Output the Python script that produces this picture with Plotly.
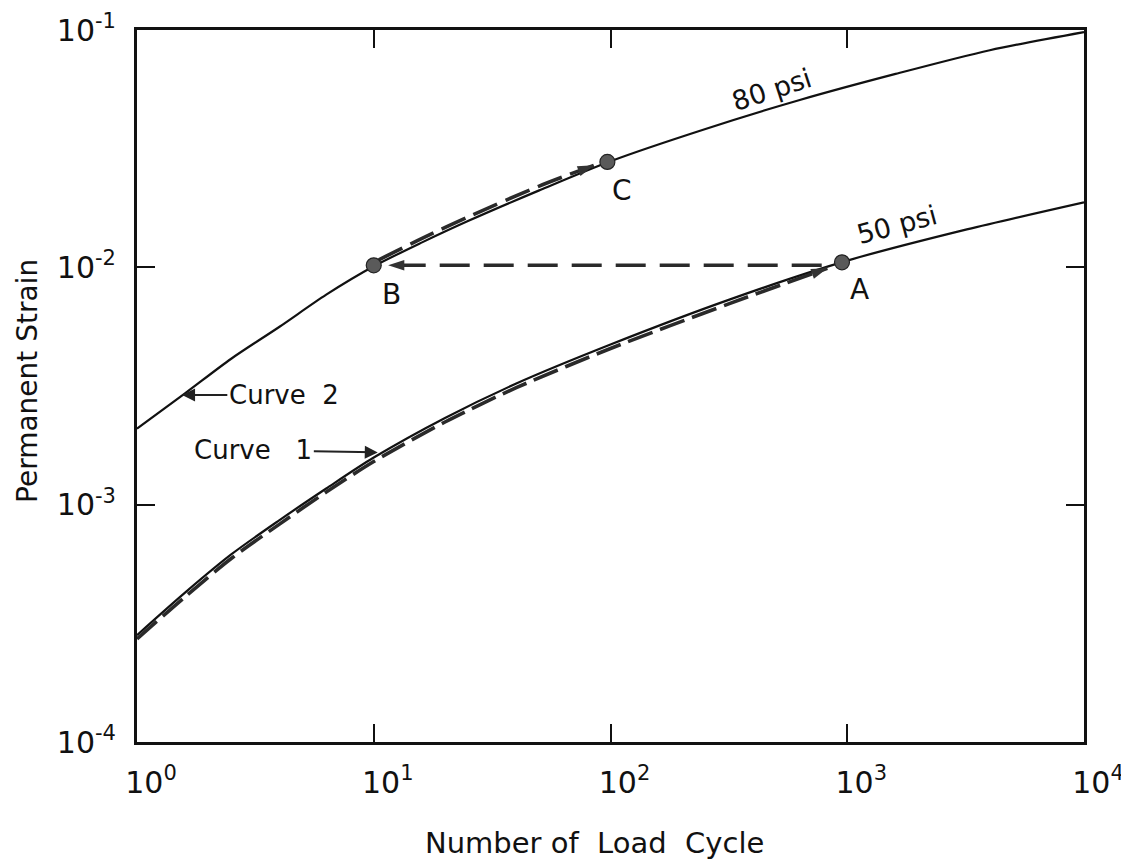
import math
import plotly.graph_objects as go

# ---------------- data ----------------
cycles_80 = [1, 1.6, 2.5, 4, 6.3, 10, 16, 25, 50, 100, 250, 630, 1600, 4000, 10000]
strain_80 = [0.00209, 0.00295, 0.00412, 0.00562, 0.00767, 0.0101, 0.01274, 0.01567,
             0.0211, 0.0280, 0.0382, 0.0507, 0.0653, 0.0822, 0.098]

cycles_50 = [1, 1.6, 2.5, 4, 6.3, 10, 20, 40, 100, 320, 1000, 3200, 10000]
strain_50 = [0.000282, 0.000427, 0.000617, 0.000861, 0.00117, 0.00158, 0.00232, 0.00324,
             0.00473, 0.00733, 0.01067, 0.01445, 0.0188]

path1_cycles = [1, 1.6, 2.5, 4, 6.3, 10, 20, 40, 100, 320, 824]
path1_strain = [0.000272, 0.00041, 0.000593, 0.000828, 0.00113, 0.00152, 0.00223, 0.00311,
                0.00455, 0.00705, 0.0099]

path_ab_cycles = [780, 11.5]
path_ab_strain = [0.0102, 0.0102]

path_bc_cycles = [10.5, 16, 25, 50, 85]
path_bc_strain = [0.01076, 0.01324, 0.0163, 0.022, 0.0269]

point_names = ["A", "B", "C"]
point_cycles = [950, 10, 97]
point_strain = [0.0105, 0.0102, 0.0278]

x_tickvals = [1, 10, 100, 1000, 10000]
x_ticktext = ["10<sup>0</sup>", "10<sup>1</sup>", "10<sup>2</sup>", "10<sup>3</sup>", "10<sup>4</sup>"]
y_tickvals = [1e-4, 1e-3, 1e-2, 1e-1]
y_ticktext = ["10<sup>-4</sup>", "10<sup>-3</sup>", "10<sup>-2</sup>", "10<sup>-1</sup>"]

FONT = "DejaVu Sans"
INK = "#111111"
DASH_INK = "#2a2a2a"

fig = go.Figure()

# solid curves
for xs, ys in [(cycles_80, strain_80), (cycles_50, strain_50)]:
    fig.add_trace(go.Scatter(x=xs, y=ys, mode="lines",
                             line=dict(color=INK, width=2.2, shape="spline", smoothing=0.8),
                             showlegend=False, hoverinfo="skip"))

# dashed loading paths, each ending in an arrow head
for xs, ys, dsh in [(path1_cycles, path1_strain, "26px,8px"),
                    (path_ab_cycles, path_ab_strain, "30px,14px"),
                    (path_bc_cycles, path_bc_strain, "26px,9px")]:
    fig.add_trace(go.Scatter(x=xs, y=ys, mode="lines",
                             line=dict(color=DASH_INK, width=3.6, dash=dsh,
                                       shape="spline", smoothing=0.8),
                             showlegend=False, hoverinfo="skip"))
    fig.add_trace(go.Scatter(x=xs[-2:], y=ys[-2:], mode="markers",
                             marker=dict(symbol=["circle", "arrow"], size=[0, 17],
                                         opacity=[0, 1], angleref="previous",
                                         color="#333333", line=dict(width=0)),
                             showlegend=False, hoverinfo="skip"))

# state points A, B, C
fig.add_trace(go.Scatter(x=point_cycles, y=point_strain, mode="markers",
                         marker=dict(size=15, color="#5a5a5a",
                                     line=dict(color="#222222", width=1.2)),
                         showlegend=False, hoverinfo="skip"))

annotations = []
label_shift = {"A": (18, -27), "B": (18, -29), "C": (15, -29)}
for name, cx, cy in zip(point_names, point_cycles, point_strain):
    dx, dy = label_shift[name]
    annotations.append(dict(x=math.log10(cx), y=math.log10(cy), xref="x", yref="y",
                            text=name, showarrow=False, xshift=dx, yshift=dy,
                            font=dict(family=FONT, size=28, color=INK)))

# curve labels
annotations.append(dict(x=math.log10(480), y=math.log10(0.0559), xref="x", yref="y",
                        text="80 psi", showarrow=False, textangle=-18,
                        font=dict(family=FONT, size=27, color=INK)))
annotations.append(dict(x=math.log10(1626), y=math.log10(0.0152), xref="x", yref="y",
                        text="50 psi", showarrow=False, textangle=-15,
                        font=dict(family=FONT, size=27, color=INK)))

# Curve 2 / Curve 1 pointers
annotations.append(dict(x=math.log10(1.55), y=math.log10(0.0029), xref="x", yref="y",
                        ax=math.log10(4.17), ay=math.log10(0.0029), axref="x", ayref="y",
                        text="Curve\u00a0\u00a02", showarrow=True, arrowhead=2, arrowsize=1.3,
                        arrowwidth=2, arrowcolor="#222222", standoff=0,
                        font=dict(family=FONT, size=26, color=INK)))
annotations.append(dict(x=math.log10(10.4), y=math.log10(0.00166), xref="x", yref="y",
                        ax=math.log10(3.1), ay=math.log10(0.0017), axref="x", ayref="y",
                        text="Curve\u00a0\u00a0\u00a01", showarrow=True, arrowhead=2,
                        arrowsize=1.3, arrowwidth=2, arrowcolor="#222222", standoff=0,
                        font=dict(family=FONT, size=26, color=INK)))

# axis titles
annotations.append(dict(x=0.4836, y=-0.1419, xref="paper", yref="paper",
                        xanchor="center", yanchor="middle",
                        text="Number of\u00a0\u00a0Load\u00a0\u00a0Cycle", showarrow=False,
                        font=dict(family=FONT, size=29, color=INK)))
annotations.append(dict(x=-0.1162, y=0.507, xref="paper", yref="paper",
                        xanchor="center", yanchor="middle",
                        text="Permanent Strain", showarrow=False, textangle=-90,
                        font=dict(family=FONT, size=28, color=INK)))

fig.update_layout(
    width=1121, height=853,
    margin=dict(l=129, r=45, t=22, b=119, autoexpand=False),
    paper_bgcolor="white", plot_bgcolor="white",
    annotations=annotations,
    xaxis=dict(type="log", range=[0, 4], tickvals=x_tickvals, ticktext=x_ticktext,
               ticks="inside", ticklen=18, tickwidth=2, tickcolor=INK,
               showline=True, linewidth=3, linecolor=INK, mirror="ticks",
               showgrid=False, zeroline=False, ticklabelshift=14, ticklabelstandoff=12,
               automargin=False,
               tickfont=dict(family=FONT, size=30, color=INK)),
    yaxis=dict(type="log", range=[-4, -1], tickvals=y_tickvals, ticktext=y_ticktext,
               ticks="inside", ticklen=18, tickwidth=2, tickcolor=INK,
               showline=True, linewidth=3, linecolor=INK, mirror="ticks",
               showgrid=False, zeroline=False, ticklabelstandoff=12,
               automargin=False,
               tickfont=dict(family=FONT, size=30, color=INK)),
)

fig.write_html("out.html")
